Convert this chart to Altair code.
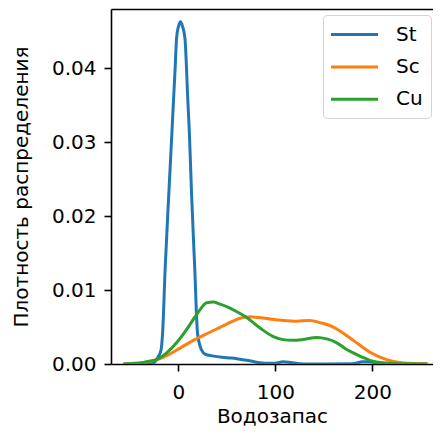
import altair as alt
import pandas as pd

# Curves (x = Водозапас, y = density)
series_names = ["St", "Sc", "Cu"]
series_colors = ["#1f77b4", "#ff7f0e", "#2ca02c"]

st_x = [-56, -34, -28, -24, -20.9, -17.8, -16.2, -13.5, -9.85, -6.6, -4.95, -3.2, -1.86, 0.2,
        2.3, 4.3, 6.9, 9.8, 11.4, 13.7, 16.9, 19.8, 23.9, 28, 35, 45, 55, 65, 75, 82,
        90, 100, 108, 116, 125, 135, 180, 190, 197, 205, 215, 257]
st_y = [0, 0, 0.00005, 0.0003, 0.00095, 0.0019, 0.0042, 0.0131, 0.0229, 0.0313, 0.0357,
        0.0402, 0.0440, 0.0457, 0.0463, 0.0457, 0.0440, 0.0357, 0.0313, 0.0229,
        0.0131, 0.0042, 0.0019, 0.0013, 0.0011, 0.0009, 0.0008, 0.0006, 0.0004, 0.0002,
        0.0001, 0.0001, 0.0003, 0.0002, 0.00005, 0, 0.00005, 0.0003, 0.0003, 0.0001, 0, 0]

sc_x = [-56.7, -40, -29.2, -15.5, -1.6, 15.5, 32.7, 49.9, 63.6, 73.9, 82.5, 94.5, 108.2,
        122, 135.8, 146, 159.8, 171.9, 180.4, 197.6, 214.8, 231.9, 257.4]
sc_y = [0, 0.0001, 0.00035, 0.0009, 0.0019, 0.0032, 0.0043, 0.0054, 0.0062, 0.0064, 0.0063,
        0.0061, 0.0059, 0.0058, 0.0059, 0.0056, 0.0050, 0.0040, 0.0032, 0.0016, 0.0006,
        0.00014, 0]

cu_x = [-56.7, -36, -29, -22.3, -12, -1.6, 8.7, 19, 29.3, 36, 43, 51, 60, 70.5, 84, 98, 108,
        118, 128, 143, 153, 163, 172, 180.4, 190, 197.6, 214.8, 230, 256.4]
cu_y = [0, 0.0002, 0.0004, 0.0006, 0.0015, 0.0029, 0.0047, 0.0067, 0.0083, 0.0084, 0.0081,
        0.0077, 0.0071, 0.0063, 0.0049, 0.0037, 0.0033, 0.0032, 0.0033, 0.0036, 0.0034,
        0.0029, 0.0021, 0.0015, 0.0009, 0.0005, 0.00012, 0.00002, 0]

x_ticks = [0, 100, 200]
y_ticks = [0.0, 0.01, 0.02, 0.03, 0.04]

rows = []
for name, xs, ys in [("St", st_x, st_y), ("Sc", sc_x, sc_y), ("Cu", cu_x, cu_y)]:
    for xv, yv in zip(xs, ys):
        rows.append({"series": name, "x": xv, "y": yv})
df = pd.DataFrame(rows)

FONT = "DejaVu Sans"
xscale = alt.Scale(domain=[-69.4, 262.6], nice=False, zero=False)
yscale = alt.Scale(domain=[0, 0.04804], nice=False, zero=False)

x_axis = alt.Axis(values=x_ticks, title="Водозапас", grid=False, tickSize=7, tickWidth=1.6,
                  tickColor="black", domainColor="black", domainWidth=1.6,
                  labelFont=FONT, labelFontSize=20, labelColor="black", labelPadding=11,
                  titleFont=FONT, titleFontSize=20, titleFontWeight="normal",
                  titleColor="black", titlePadding=4)
y_axis = alt.Axis(values=y_ticks, format=".2f", title="Плотность распределения", grid=False,
                  tickSize=7, tickWidth=1.6, tickColor="black", domainColor="black",
                  domainWidth=1.6, labelFont=FONT, labelFontSize=20, labelColor="black",
                  labelPadding=8, titleFont=FONT, titleFontSize=20,
                  titleFontWeight="normal", titleColor="black", titlePadding=20)

legend = alt.Legend(orient="none", legendX=212, legendY=6, title=None,
                    symbolType="M-1.15,0H3.55", symbolSize=400, symbolStrokeWidth=3,
                    labelFont=FONT, labelFontSize=20, labelColor="black", labelOffset=42,
                    rowPadding=10.4, padding=8, fillColor="white", strokeColor="#d3d3d3",
                    cornerRadius=4, labelLimit=300)

lines = alt.Chart(df).mark_line(strokeWidth=3, interpolate="monotone", clip=True).encode(
    x=alt.X("x:Q", scale=xscale, axis=x_axis),
    y=alt.Y("y:Q", scale=yscale, axis=y_axis),
    color=alt.Color("series:N", scale=alt.Scale(domain=series_names, range=series_colors),
                    legend=legend, sort=series_names),
    detail="series:N",
)

top_frame = alt.Chart(df).mark_line(opacity=0).encode(
    x=alt.X("x:Q", scale=xscale,
            axis=alt.Axis(orient="top", labels=False, ticks=False, grid=False, title=None,
                          domainColor="black", domainWidth=1.6)),
    y=alt.Y("y:Q", scale=yscale, axis=None),
    detail="series:N",
)

chart = alt.layer(lines, top_frame).resolve_axis(x="independent", y="independent").properties(
    width=322, height=355,
    autosize=alt.AutoSizeParams(type="none"),
    padding={"left": 103, "top": 1, "right": 0, "bottom": 64},
).configure_view(stroke=None).configure(background="white")

chart.save("out.html", embed_options={"renderer": "svg", "actions": False})
